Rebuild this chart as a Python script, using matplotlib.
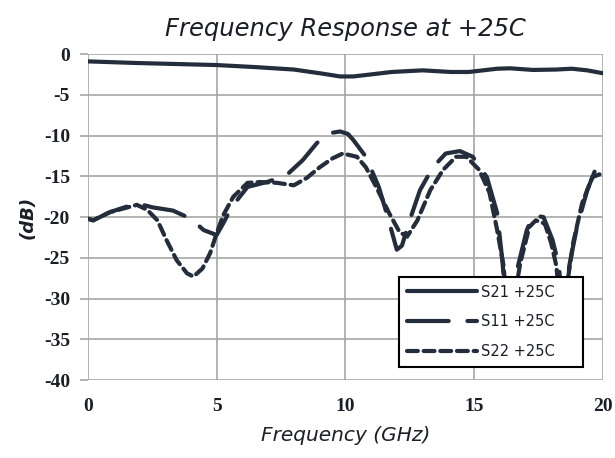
import numpy as np
import matplotlib.pyplot as plt

plt.rcParams['axes.unicode_minus'] = False

# data
s21_f = [0, 1.9, 5, 6.5, 8, 9.1, 9.8, 10.3, 11, 11.8, 13, 14.1, 14.8, 15.9, 16.4, 17.3, 18.2, 18.8, 19.4, 20]
s21_db = [-0.9, -1.1, -1.35, -1.6, -1.9, -2.4, -2.75, -2.75, -2.5, -2.2, -2.0, -2.2, -2.2, -1.8, -1.75, -1.95, -1.9, -1.8, -2.0, -2.35]

s11_f = [0, 0.2, 0.85, 1.9, 2.5, 3.3, 4.0, 4.5, 5.0, 5.25, 5.6, 6.2, 6.95, 7.7, 8.35, 8.9, 9.4, 9.8, 10.1,
         10.3, 10.8, 11.3, 11.65, 12.0, 12.2, 12.5, 12.9, 13.4, 13.9, 14.45, 14.95, 15.5, 15.9, 16.1, 16.35,
         16.7, 17.05, 17.3, 17.7, 18.05, 18.3, 18.5, 18.7, 19.0, 19.4, 19.75, 20]
s11_db = [-20.2, -20.4, -19.4, -18.3, -18.8, -19.2, -20.2, -21.6, -22.2, -20.8, -18.7, -16.3, -15.7, -14.9, -13.0, -10.9, -9.7, -9.5, -9.8,
          -10.5, -12.6, -16.3, -20.0, -24.0, -23.5, -20.4, -16.7, -13.9, -12.2, -11.9, -12.6, -15.1, -19.5, -25.3, -35.0,
          -26.1, -21.6, -19.8, -20.0, -22.8, -26.0, -34.0, -26.0, -21.2, -16.7, -13.9, -12.8]

s22_f = [0, 0.2, 0.85, 1.9, 2.3, 2.7, 3.05, 3.45, 3.85, 4.1, 4.45, 4.75, 5.0, 5.25, 5.65, 6.2, 6.7, 7.35, 8.0, 8.5,
         9.0, 9.5, 9.9, 10.45, 10.8, 11.2, 11.7, 12.1, 12.4, 12.8, 13.3, 13.8, 14.3, 14.7, 15.2, 15.6, 15.9, 16.15,
         16.35, 16.8, 17.15, 17.4, 17.75, 18.0, 18.2, 18.4, 18.85, 19.2, 19.6, 20]
s22_db = [-20.2, -20.4, -19.4, -18.5, -19.1, -20.4, -22.8, -25.3, -26.9, -27.3, -26.3, -24.4, -22.0, -19.8, -17.5, -15.8, -15.7, -15.8, -16.1, -15.2,
          -13.9, -12.8, -12.2, -12.6, -13.9, -16.3, -19.5, -21.8, -22.4, -20.4, -16.7, -14.2, -12.6, -12.6, -14.2, -17.0, -21.6, -26.0,
          -34.0, -25.6, -21.2, -20.4, -20.8, -23.2, -26.0, -33.0, -23.2, -18.3, -15.1, -14.6]

series_names = ['S21 +25C', 'S11 +25C', 'S22 +25C']
xticks = [0, 5, 10, 15, 20]
yticks = [0, -5, -10, -15, -20, -25, -30, -35, -40]

ink = '#232d3b'
txt = '#1a1e26'
lw = 3.0

fig = plt.figure(figsize=(6.15, 4.58), dpi=100)
ax = fig.add_axes([0.143, 0.170, 0.837, 0.712])

ax.plot(s21_f, s21_db, color=ink, lw=lw, solid_capstyle='round', label=series_names[0])
ax.plot(s11_f, s11_db, color=ink, lw=lw, dashes=(10, 4.5), dash_capstyle='round', label=series_names[1])
ax.plot(s22_f, s22_db, color=ink, lw=lw, dashes=(2.6, 1.4), dash_capstyle='round', label=series_names[2])

ax.set_xlim(0, 20)
ax.set_ylim(-40, 0)
ax.set_xticks(xticks)
ax.set_yticks(yticks)
ax.grid(True, color='#a6a6a6', lw=1.2)
for s in ax.spines.values():
    s.set_visible(False)
ax.tick_params(axis='y', length=6, color='#a6a6a6', width=1.2, pad=7)
ax.tick_params(axis='x', length=0, pad=13)
for lab in ax.get_xticklabels() + ax.get_yticklabels():
    lab.set_family('Liberation Serif')
    lab.set_weight('bold')
    lab.set_fontsize(14)
    lab.set_color(txt)

ax.set_title('Frequency Response at +25C', family='DejaVu Sans', style='italic', fontsize=17.5,
             color=txt, pad=13)
ax.set_xlabel('Frequency (GHz)', family='DejaVu Sans', style='italic', fontsize=14.5, color=txt, labelpad=8)
ax.set_ylabel('(dB)', family='DejaVu Sans', style='italic', weight='bold', fontsize=13, color=txt, labelpad=5)

leg = ax.legend(loc='upper left', bbox_to_anchor=(0.59, 0.34, 0.385, 0.0), mode='expand',
                frameon=True, fancybox=False, edgecolor='black', framealpha=1,
                handlelength=4.8, labelspacing=1.0, borderpad=0.55, handletextpad=0.3,
                prop={'family': 'DejaVu Sans', 'size': 10.5})
leg.get_frame().set_linewidth(1.5)
leg.set_zorder(5)
for t in leg.get_texts():
    t.set_color(txt)

fig.savefig('out.png', dpi=100)
